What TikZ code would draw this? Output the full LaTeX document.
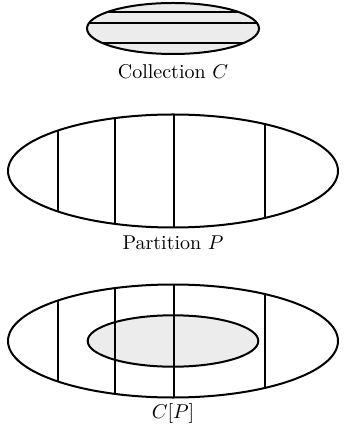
\documentclass[tikz,border=0pt]{standalone}
\begin{document}
\begin{tikzpicture}[x=0.5pt,y=-0.5pt,line width=1pt]
	\useasboundingbox (0,0) rectangle (343,431);
	\coordinate (coll) at (173,28.5);
	\coordinate (part) at (173,171);
	\coordinate (cp) at (173,341);
	% collection C
	\begin{scope}
	\clip (coll) ellipse (86 and 25.5);
	\fill [gray!15] (coll) ellipse (86 and 25.5);
	\foreach \y in {11.7,22.7,42.7}
		\draw (80,\y) -- (270,\y);
	\end{scope}
	\draw (coll) ellipse (86 and 25.5);
	\node (labC) at (173,72) {Collection $C$};
	% partition P
	\begin{scope}
	\clip (part) ellipse (165 and 56.5);
	\foreach \x in {58.3,115,173.7,265.3}
		\draw (\x,100) -- (\x,240);
	\end{scope}
	\draw (part) ellipse (165 and 56.5);
	\node (labP) at (173,243) {Partition $P$};
	% C[P]
	\fill [gray!15] (cp) ellipse (85.3 and 25.7);
	\begin{scope}
	\clip (cp) ellipse (165 and 56.5);
	\foreach \x in {58.3,115,173.7,265.3}
		\draw (\x,270) -- (\x,410);
	\end{scope}
	\draw (cp) ellipse (165 and 56.5);
	\draw (cp) ellipse (85.3 and 25.7);
	\node (labCP) at (173,413) {$C[P]$};
\end{tikzpicture}
\end{document}
